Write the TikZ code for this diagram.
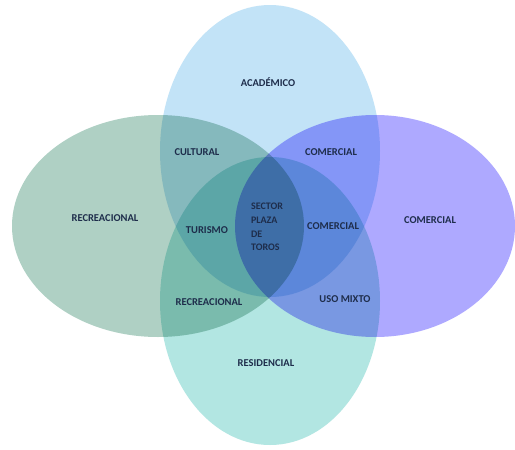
\documentclass[tikz,border=0pt]{standalone}
\usepackage{fontspec}
\setmainfont{Carlito}
\begin{document}
\begin{tikzpicture}[x=1pt,y=-1pt,
  lab/.style={font=\bfseries\fontsize{10.5}{11}\selectfont, text=labc, inner sep=1pt},
  blob/.style={draw=none, blend mode=multiply}]
\definecolor{ctop}{RGB}{194,227,247}
\definecolor{cleft}{RGB}{175,208,196}
\definecolor{cright}{RGB}{174,169,255}
\definecolor{cbot}{RGB}{178,230,226}
\definecolor{labc}{RGB}{30,45,75}
\useasboundingbox (0,0) rectangle (515,450);
\fill[white] (0,0) rectangle (515,450);
\fill[blob, fill=ctop] (270,151) ellipse [x radius=110, y radius=146];
\fill[blob, fill=cleft] (158,226) ellipse [x radius=146, y radius=111];
\fill[blob, fill=cright] (375,226) ellipse [x radius=140, y radius=111];
\fill[blob, fill=cbot] (270,301) ellipse [x radius=110, y radius=144];
\node[lab] (acad) at (268,82) {ACADÉMICO};
\node[lab] (cult) at (197,152) {CULTURAL};
\node[lab] (com1) at (331,152) {COMERCIAL};
\node[lab] (rec1) at (105,218) {RECREACIONAL};
\node[lab] (tur) at (207,230) {TURISMO};
\node[lab, align=left, font=\bfseries\fontsize{10}{13.8}\selectfont] (sec) at (267,227) {SECTOR\\PLAZA\\DE\\TOROS};
\node[lab] (com2) at (333,226) {COMERCIAL};
\node[lab] (com3) at (430,220) {COMERCIAL};
\node[lab] (rec2) at (209,302) {RECREACIONAL};
\node[lab] (uso) at (345,299) {USO MIXTO};
\node[lab] (res) at (266,363) {RESIDENCIAL};
\end{tikzpicture}
\end{document}
